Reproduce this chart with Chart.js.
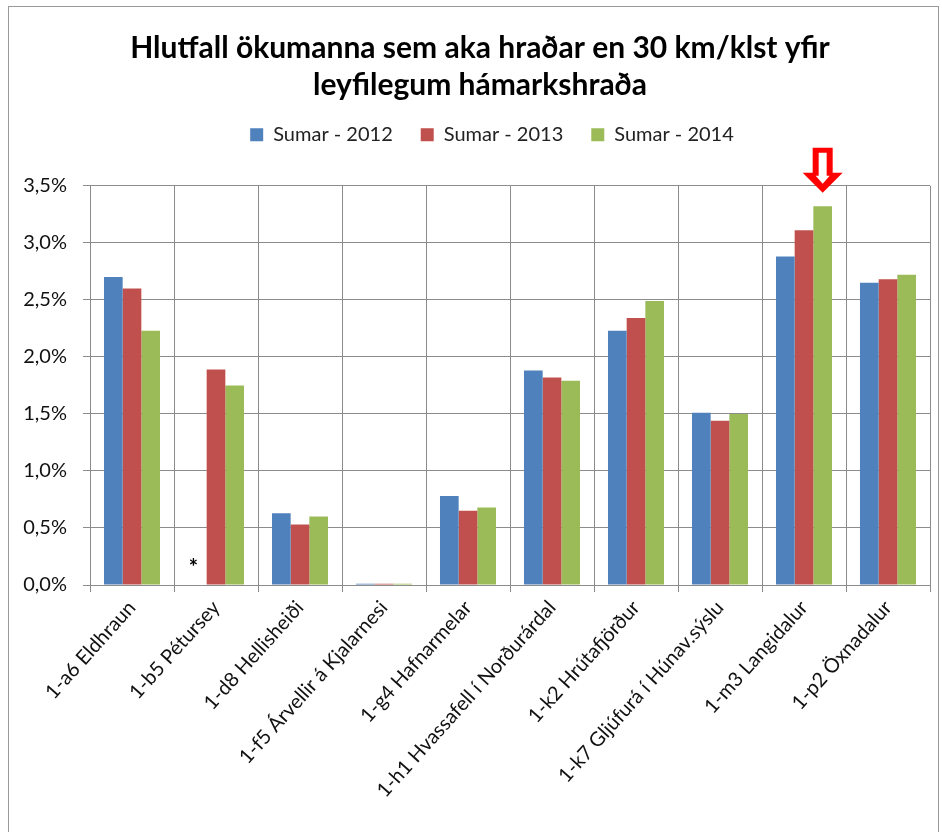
<!DOCTYPE html>
<html>
<head>
<meta charset="utf-8">
<script src="https://cdn.jsdelivr.net/npm/chart.js@4.4.1/dist/chart.umd.min.js"></script>
<style>
    body { margin: 0; background: #fff; }
    #wrap { width: 942px; height: 832px; position: relative; }
</style>
</head>
<body>
<div id="wrap"><canvas id="myChart" width="942" height="832"></canvas></div>
<script>
// Data (percent)
var stations = ['1-a6 Eldhraun', '1-b5 Pétursey', '1-d8 Hellisheiði', '1-f5 Árvellir á Kjalarnesi',
    '1-g4 Hafnarmelar', '1-h1 Hvassafell í Norðurárdal', '1-k2 Hrútafjörður',
    '1-k7 Gljúfurá í Húnav.sýslu', '1-m3 Langidalur', '1-p2 Öxnadalur'];
var sumar2012 = [2.70, null, 0.63, 0.01, 0.78, 1.88, 2.23, 1.51, 2.88, 2.65];
var sumar2013 = [2.60, 1.89, 0.53, 0.01, 0.65, 1.82, 2.34, 1.44, 3.11, 2.68];
var sumar2014 = [2.23, 1.75, 0.60, 0.01, 0.68, 1.79, 2.49, 1.50, 3.32, 2.72];
var seriesNames = ['Sumar - 2012', 'Sumar - 2013', 'Sumar - 2014'];
var colors = ['#4F81BD', '#C0504D', '#9BBB59'];
var yTicks = [0, 0.5, 1.0, 1.5, 2.0, 2.5, 3.0, 3.5];

var fontFam = "Lato, 'Open Sans', sans-serif";
var gridColor = '#8c8c8c';

// frame round the whole chart, extra room under the legend
var framePlugin = {
    id: 'frame',
    afterInit: function (chart) {
        var lg = chart.legend;
        if (lg && !lg._patched) {
            var origFit = lg.fit;
            lg.fit = function () {
                origFit.apply(this, arguments);
                this.height += 31;
            };
            lg._patched = true;
        }
    },
    afterLayout: function (chart) {
        // title and legend sit a little right of centre in the original
        if (chart.titleBlock) {
            chart.titleBlock.left += 10;
            chart.titleBlock.right += 10;
        }
        if (chart.legend) {
            chart.legend.left += 22;
            chart.legend.right += 22;
        }
    },
    beforeDraw: function (chart) {
        var ctx = chart.ctx;
        ctx.save();
        ctx.fillStyle = '#fff';
        ctx.fillRect(0, 0, chart.width, chart.height);
        ctx.strokeStyle = '#9a9a9a';
        ctx.lineWidth = 1;
        ctx.strokeRect(8.5, 6.5, chart.width - 12, chart.height + 10);
        ctx.restore();
    }
};

// asterisk for missing 2012 value and the red arrow over Langidalur
var notesPlugin = {
    id: 'notes',
    afterDraw: function (chart) {
        var ctx = chart.ctx;
        var y = chart.scales.y;
        ctx.save();
        // asterisk
        var miss = chart.getDatasetMeta(0).data[1];
        ctx.fillStyle = '#000';
        ctx.font = 'bold 22px ' + fontFam;
        ctx.textAlign = 'center';
        ctx.textBaseline = 'middle';
        ctx.fillText('*', miss.x - 4, y.getPixelForValue(0.2) + 6);

        // arrow
        var bar = chart.getDatasetMeta(2).data[8];
        var cx = bar.x;
        var tip = chart.chartArea.top + 7;
        var top = tip - 45;
        var neck = tip - 20;
        ctx.beginPath();
        ctx.moveTo(cx - 10, top);
        ctx.lineTo(cx + 10, top);
        ctx.lineTo(cx + 10, neck);
        ctx.lineTo(cx + 20, neck);
        ctx.lineTo(cx, tip);
        ctx.lineTo(cx - 20, neck);
        ctx.lineTo(cx - 10, neck);
        ctx.closePath();
        ctx.fillStyle = '#ff0000';
        ctx.fill();
        ctx.beginPath();
        ctx.moveTo(cx - 4, top + 5);
        ctx.lineTo(cx + 4, top + 5);
        ctx.lineTo(cx + 4, neck + 3);
        ctx.lineTo(cx + 7, neck + 3);
        ctx.lineTo(cx, tip - 9);
        ctx.lineTo(cx - 7, neck + 3);
        ctx.lineTo(cx - 4, neck + 3);
        ctx.closePath();
        ctx.fillStyle = '#ffffff';
        ctx.fill();
        ctx.restore();
    }
};

var datasets = [sumar2012, sumar2013, sumar2014].map(function (d, i) {
    return {
        label: seriesNames[i],
        data: d,
        backgroundColor: colors[i],
        borderWidth: 0,
        categoryPercentage: 0.667,
        barPercentage: 1.0
    };
});

var ctx = document.getElementById('myChart').getContext('2d');
var myChart = new Chart(ctx, {
    type: 'bar',
    data: {
        labels: stations,
        datasets: datasets
    },
    options: {
        responsive: false,
        animation: false,
        layout: {
            padding: { left: 10, right: 12, top: 0, bottom: 0 }
        },
        plugins: {
            title: {
                display: true,
                text: ['Hlutfall ökumanna sem aka hraðar en 30 km/klst yfir', 'leyfilegum hámarkshraða'],
                color: '#000',
                font: { family: fontFam, size: 30, weight: 'bold', lineHeight: 1.23 },
                padding: { top: 30, bottom: -7 }
            },
            legend: {
                display: true,
                position: 'top',
                labels: {
                    boxWidth: 13,
                    boxHeight: 13,
                    padding: 28,
                    color: '#222',
                    font: { family: fontFam, size: 20 }
                }
            },
            tooltip: { enabled: false }
        },
        scales: {
            x: {
                grid: {
                    color: gridColor,
                    drawTicks: true,
                    tickLength: 7
                },
                border: { color: gridColor },
                ticks: {
                    color: '#111',
                    minRotation: 48,
                    maxRotation: 48,
                    autoSkip: false,
                    padding: 4,
                    font: { family: fontFam, size: 20 }
                },
                afterFit: function (scale) {
                    scale.height = 247;
                }
            },
            y: {
                min: 0,
                max: 3.5,
                afterBuildTicks: function (scale) {
                    scale.ticks = yTicks.map(function (v) { return { value: v }; });
                },
                grid: {
                    color: gridColor,
                    drawTicks: true,
                    tickLength: 7
                },
                border: { color: gridColor },
                ticks: {
                    color: '#111',
                    padding: 16,
                    font: { family: fontFam, size: 20 },
                    callback: function (v) {
                        return v.toFixed(1).replace('.', ',') + '%';
                    }
                },
                afterFit: function (scale) {
                    scale.width = 80;
                }
            }
        }
    },
    plugins: [framePlugin, notesPlugin]
});
</script>
</body>
</html>
